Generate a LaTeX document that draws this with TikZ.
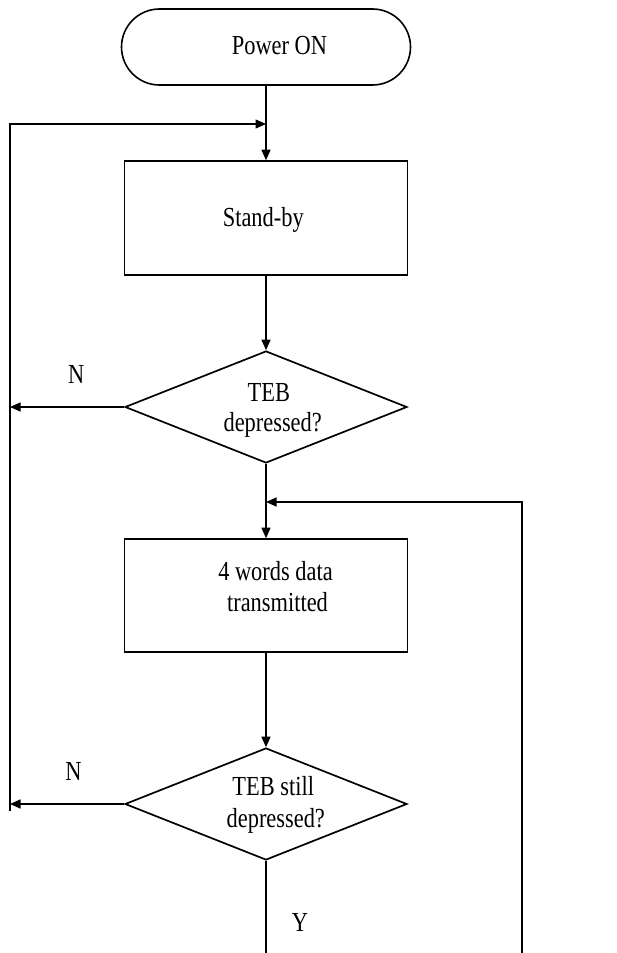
\documentclass[tikz,border=0pt]{standalone}
\usepackage{fontspec}
\setmainfont{Liberation Serif}
\usepackage{graphicx}
\usetikzlibrary{arrows.meta,shapes.geometric}
\newcommand{\st}[1]{\scalebox{1}[1.23]{#1}}
\begin{document}
\begin{tikzpicture}[x=1pt,y=-1pt,
  line width=1.5pt,
  arr/.style={-{Triangle[length=10.5pt,width=9pt]}},
  box/.style={draw,rectangle,inner sep=0pt,line width=1.6pt},
  term/.style={draw,rectangle,rounded corners=38pt,inner sep=0pt,minimum width=289pt,minimum height=76pt,line width=1.6pt},
  dec/.style={draw,diamond,inner sep=0pt,minimum width=282pt,minimum height=112pt,line width=1.7pt},
  txt/.style={anchor=base,inner sep=0pt,font=\fontsize{22.4}{26}\selectfont}]
\useasboundingbox (0,0) rectangle (617,953);
% shapes
\node[term] (pwr) at (266,47) {};
\node[box,minimum width=283pt,minimum height=114pt] (stand) at (266,218) {};
\node[dec] (d1) at (266,407) {};
\node[box,minimum width=283pt,minimum height=113pt] (tx) at (266,595.5) {};
\node[dec] (d2) at (266,804) {};
% texts
\node[txt] (tp) at (279.5,54) {\st{Power ON}};
\node[txt] (ts) at (263.3,226.7) {\st{Stand-by}};
\node[txt] (t1a) at (268.8,401) {\st{TEB}};
\node[txt] (t1b) at (272.7,431.7) {\st{depressed?}};
\node[txt] (t2a) at (275.5,580) {\st{4 words data}};
\node[txt] (t2b) at (277.5,611.7) {\st{transmitted}};
\node[txt] (t3a) at (273.2,795.7) {\st{TEB still}};
\node[txt] (t3b) at (275.8,827.3) {\st{depressed?}};
\node[txt] (n1) at (76.3,383.3) {\st{N}};
\node[txt] (n2) at (73.5,780.7) {\st{N}};
\node[txt] (ly) at (300,931.7) {\st{Y}};
% coordinates
\coordinate (j1) at (266,124);
\coordinate (ltop) at (10,124);
\coordinate (lbot) at (10,811);
\coordinate (l1) at (10,407);
\coordinate (l2) at (10,804);
\coordinate (j2) at (266,502);
\coordinate (rtop) at (522,502);
\coordinate (rbot) at (522,953);
\coordinate (ybot) at (266,953);
% connectors
\draw[arr] (pwr.south) -- (stand.north);
\draw[arr,line width=1.2pt] (lbot) -- (ltop) -- (j1);
\draw[arr] (stand.south) -- (d1.north);
\draw[arr] (d1.west) -- (l1);
\draw[arr] (d1.south) -- (tx.north);
\draw[arr] (rbot) -- (rtop) -- (j2);
\draw[arr] (tx.south) -- (d2.north);
\draw[arr] (d2.west) -- (l2);
\draw (d2.south) -- (ybot);
\end{tikzpicture}
\end{document}
